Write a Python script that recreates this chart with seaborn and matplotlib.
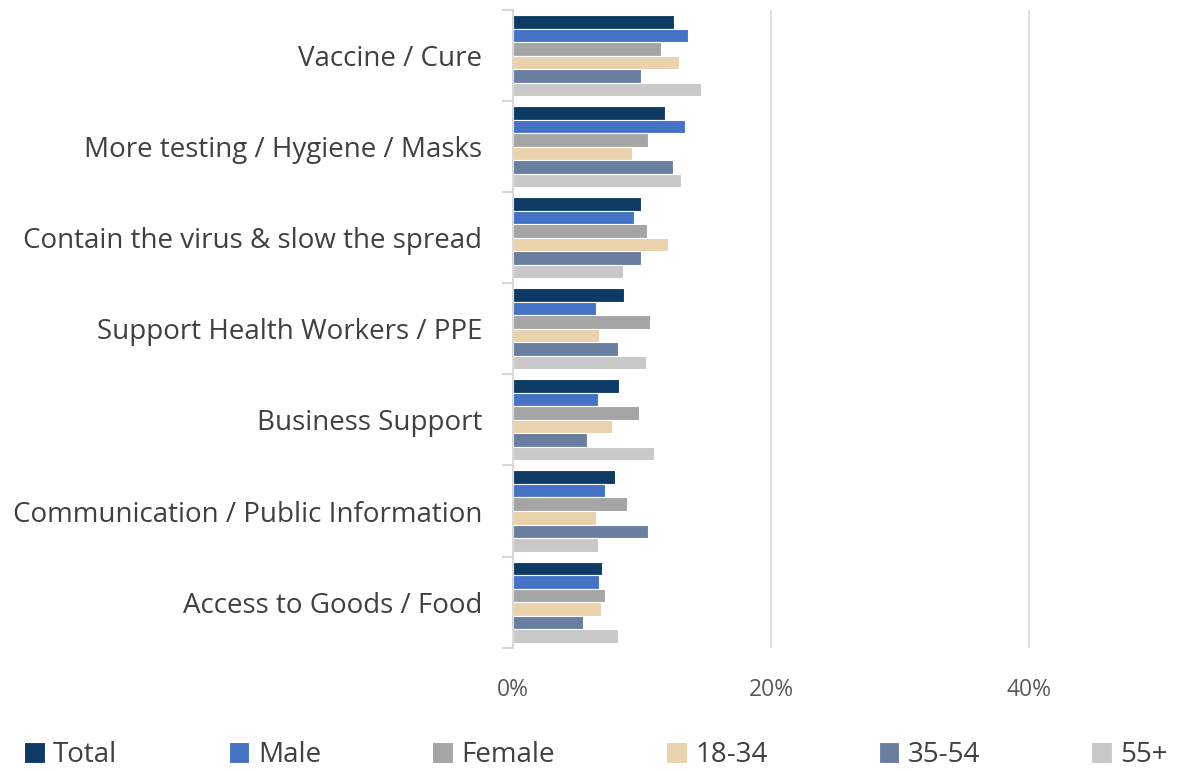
import matplotlib
matplotlib.use("Agg")
import matplotlib.pyplot as plt
import seaborn as sns
import pandas as pd
import numpy as np
from matplotlib.ticker import FixedLocator, PercentFormatter

categories = ["Vaccine / Cure", "More testing / Hygiene / Masks",
              "Contain the virus & slow the spread", "Support Health Workers / PPE",
              "Business Support", "Communication / Public Information",
              "Access to Goods / Food"]
series = ["Total", "Male", "Female", "18-34", "35-54", "55+"]
total  = [12.5, 11.8, 9.9, 8.6, 8.2, 7.9, 6.9]
male   = [13.6, 13.3, 9.4, 6.4, 6.6, 7.1, 6.7]
female = [11.5, 10.5, 10.4, 10.6, 9.8, 8.8, 7.1]
age1834 = [12.9, 9.2, 12.0, 6.7, 7.7, 6.4, 6.8]
age3554 = [9.9, 12.4, 9.9, 8.1, 5.7, 10.5, 5.4]
age55 = [14.6, 13.0, 8.5, 10.3, 10.9, 6.6, 8.1]
colors = ["#0E3A66", "#4472C4", "#A5A5A5", "#EAD2AC", "#697FA0", "#C9C8C8"]
xticks = [0, 20, 40]

values = [total, male, female, age1834, age3554, age55]
rows = []
for s, vals in zip(series, values):
    for c, v in zip(categories, vals):
        rows.append({"category": c, "series": s, "value": v})
df = pd.DataFrame(rows)

sns.set_theme(style="white")
plt.rcParams['font.family'] = ['Open Sans', 'DejaVu Sans']

fig = plt.figure(figsize=(11.78, 7.71), dpi=100)
ax = fig.add_axes([0.4355, 0.160, 0.983 - 0.4355, 0.987 - 0.160])

sns.barplot(data=df, y="category", x="value", hue="series", order=categories,
            hue_order=series, palette=colors, orient="h", width=0.89, saturation=1,
            edgecolor="white", linewidth=0.8, ax=ax, legend=True)

ax.set_xlim(0, 50)
ax.set_ylim(len(categories) - 0.5, -0.5)
ax.xaxis.set_major_locator(FixedLocator(xticks))
ax.xaxis.set_major_formatter(PercentFormatter(decimals=0))
ax.grid(axis="x", color="#D9D9D9", linewidth=1.2)
ax.set_axisbelow(True)
for sp in ["top", "right", "bottom"]:
    ax.spines[sp].set_visible(False)
ax.spines["left"].set_color("#D9D9D9")
ax.spines["left"].set_linewidth(1.5)
ax.set_xlabel("")
ax.set_ylabel("")

ax.tick_params(axis="x", length=0, labelsize=16.5, labelcolor="#595959", pad=22)
ax.tick_params(axis="y", which="major", length=0, labelsize=20, labelcolor="#404040", pad=22)
ax.set_yticks(np.arange(len(categories) + 1) - 0.5, minor=True)
ax.tick_params(axis="y", which="minor", length=8, width=1.5, color="#D9D9D9", left=True)

handles, labels = ax.get_legend_handles_labels()
ax.get_legend().remove()
fig.legend(handles, labels, loc="lower left", bbox_to_anchor=(0.011, -0.012, 0.99, 0.05),
           ncol=6, mode="expand", frameon=False, fontsize=20, handlelength=0.75,
           handleheight=0.75, handletextpad=0.3, labelcolor="#404040", borderaxespad=0)

fig.savefig("out.png", dpi=100, facecolor="white")
